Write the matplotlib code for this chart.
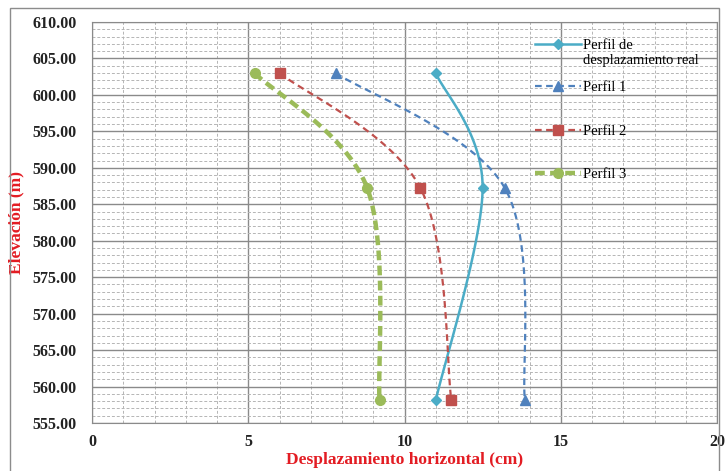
import matplotlib.pyplot as plt
import matplotlib.patches as mpatches
import numpy as np
from matplotlib.ticker import MultipleLocator, FormatStrFormatter

# elevations of the three measured points (m)
elev = [603.0, 587.3, 558.1]
# horizontal displacement (cm)
real = [11.0, 12.5, 11.0]
perfil1 = [7.8, 13.2, 13.85]
perfil2 = [6.0, 10.5, 11.5]
perfil3 = [5.2, 8.8, 9.2]

labels = ['Perfil de\ndesplazamiento real', 'Perfil 1', 'Perfil 2', 'Perfil 3']


def excel_smooth(x, y, n=40):
    # Excel-like smoothed line: cubic bezier through the points
    p = np.column_stack([x, y]).astype(float)
    p = np.vstack([p[0], p, p[-1]])
    out = []
    for i in range(1, len(p) - 2):
        p0, p1, p2, p3 = p[i - 1], p[i], p[i + 1], p[i + 2]
        c1 = p1 + (p2 - p0) / 6.0
        c2 = p2 - (p3 - p1) / 6.0
        t = np.linspace(0, 1, n)[:, None]
        seg = ((1 - t) ** 3) * p1 + 3 * ((1 - t) ** 2) * t * c1 + 3 * (1 - t) * t ** 2 * c2 + t ** 3 * p2
        out.append(seg if i == 1 else seg[1:])
    s = np.vstack(out)
    return s[:, 0], s[:, 1]


plt.rcParams['font.family'] = ['Liberation Serif', 'DejaVu Serif']

fig = plt.figure(figsize=(7.25, 4.71), dpi=100)
ax = fig.add_axes([92 / 725, 1 - 423 / 471, 625 / 725, 401 / 471])

# chart border
fig.patches.append(mpatches.Rectangle((10 / 725, -0.05), 709 / 725, 1 - 8 / 471 + 0.05,
                                      transform=fig.transFigure, fill=False,
                                      edgecolor='#8c8c8c', lw=1.0))

series = [
    (real, '#4BACC6', '-', 'D', 1.8, 5, None),
    (perfil1, '#4F81BD', '--', '^', 1.6, 7, (3, 2)),
    (perfil2, '#C0504D', '--', 's', 1.6, 7, (3, 2)),
    (perfil3, '#9BBB59', '--', 'o', 3.2, 7, (2.2, 1.2)),
]

handles = []
for (xs, col, ls, mk, lw, ms, dash), lab in zip(series, labels):
    sx, sy = excel_smooth(xs, elev)
    line, = ax.plot(sx, sy, color=col, lw=lw, ls=ls, zorder=3)
    if dash is not None:
        line.set_dashes(dash)
    ax.plot(xs, elev, ls='none', marker=mk, color=col, ms=ms, zorder=4)
    h, = ax.plot([], [], color=col, lw=lw, ls=ls, marker=mk, ms=ms, label=lab)
    if dash is not None:
        h.set_dashes(dash)
    handles.append(h)

ax.set_xlim(0, 20)
ax.set_ylim(555, 610)
ax.xaxis.set_major_locator(MultipleLocator(5))
ax.xaxis.set_minor_locator(MultipleLocator(1))
ax.yaxis.set_major_locator(MultipleLocator(5))
ax.yaxis.set_minor_locator(MultipleLocator(1))
ax.yaxis.set_major_formatter(FormatStrFormatter('%.2f'))
ax.grid(which='major', color='#8a8a8a', lw=1.0, ls='-')
ax.grid(which='minor', color='#b5b5b5', lw=0.7, ls=(0, (3, 2)))
ax.set_axisbelow(True)
ax.tick_params(which='both', length=0)
ax.tick_params(axis='y', pad=11)
ax.tick_params(axis='x', pad=8)
for t in ax.get_xticklabels() + ax.get_yticklabels():
    t.set_fontsize(11.5)
    t.set_fontweight('bold')
    t.set_color('#222222')
for s in ax.spines.values():
    s.set_color('#8a8a8a')

ax.set_xlabel('Desplazamiento horizontal (cm)', color='#e31c23', fontsize=12.5,
              fontweight='bold', labelpad=1)
ax.set_ylabel('Elevación (m)', color='#e31c23', fontsize=12.5, fontweight='bold',
              labelpad=6)

leg_kw = dict(loc='upper left', frameon=False, fontsize=10.5, handlelength=3.2,
              handletextpad=0.1, borderaxespad=0, borderpad=0)
leg1 = ax.legend(handles=handles[:1], bbox_to_anchor=(0.708, 0.957), **leg_kw)
# line the handle up with the first line of its two-line label
leg1._legend_handle_box.get_children()[0].get_children()[0].align = 'top'
ax.add_artist(leg1)
ax.legend(handles=handles[1:], bbox_to_anchor=(0.708, 0.8525), labelspacing=2.07, **leg_kw)

fig.savefig('out.png', dpi=100)
